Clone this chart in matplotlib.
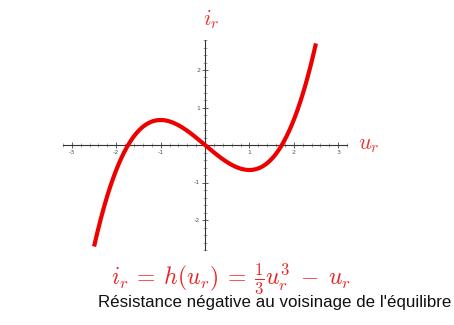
import numpy as np
import matplotlib
matplotlib.use('Agg')
import matplotlib.pyplot as plt
from matplotlib.ticker import MultipleLocator, FixedLocator

plt.rcParams['mathtext.fontset'] = 'cm'

# Characteristic i_r = h(u_r) = u_r^3/3 - u_r, drawn over the plotted range
u_min, u_max = -2.5, 2.5
x_ticks = [-3, -2, -1, 1, 2, 3]
y_ticks = [-2, -1, 1, 2]
caption = "Résistance négative au voisinage de l'équilibre"


def h(u):
    return u ** 3 / 3 - u


u = np.linspace(u_min, u_max, 400)
i = h(u)

fig = plt.figure(figsize=(4.54, 3.25), dpi=100)
ax = fig.add_axes([63 / 454, 75 / 325, 284 / 454, 210 / 325])
ax.plot(u, i, color='#ee0000', lw=3, solid_capstyle='butt', zorder=3)

ax.set_xlim(-3.2, 3.2)
ax.set_ylim(-2.8, 2.8)
for side in ['top', 'right']:
    ax.spines[side].set_visible(False)
for side in ['left', 'bottom']:
    ax.spines[side].set_position('zero')
    ax.spines[side].set_color('#333333')
    ax.spines[side].set_linewidth(0.8)

ax.xaxis.set_major_locator(FixedLocator(x_ticks))
ax.yaxis.set_major_locator(FixedLocator(y_ticks))
ax.xaxis.set_minor_locator(MultipleLocator(0.2))
ax.yaxis.set_minor_locator(MultipleLocator(0.2))
ax.tick_params(which='major', direction='inout', length=5, width=0.6,
               color='#444444', labelsize=4.5, labelcolor='#555555', pad=1)
ax.tick_params(which='minor', direction='inout', length=2.5, width=0.4,
               color='#666666')
ax.set_xticklabels([str(t) for t in x_ticks])
ax.set_yticklabels([str(t) for t in y_ticks])

# Axis names
ax.text(3.45, 0, r'$u_r$', color='#ee3333', fontsize=16, ha='left', va='center')
ax.text(0.15, 3.05, r'$i_r$', color='#ee3333', fontsize=16, ha='center', va='bottom')

fig.text(231 / 454, 1 - 279 / 325,
         r'$i_r \:=\: h(u_r) \:=\: \frac{1}{3}u_r^3 \;-\; u_r$',
         color='#ee2222', fontsize=17, ha='center', va='center')
fig.text(275 / 454, 1 - 302 / 325, caption, family='Liberation Sans',
         fontsize=12.2, color='#111111', ha='center', va='center')

fig.savefig('out.png', dpi=100, facecolor='white')
